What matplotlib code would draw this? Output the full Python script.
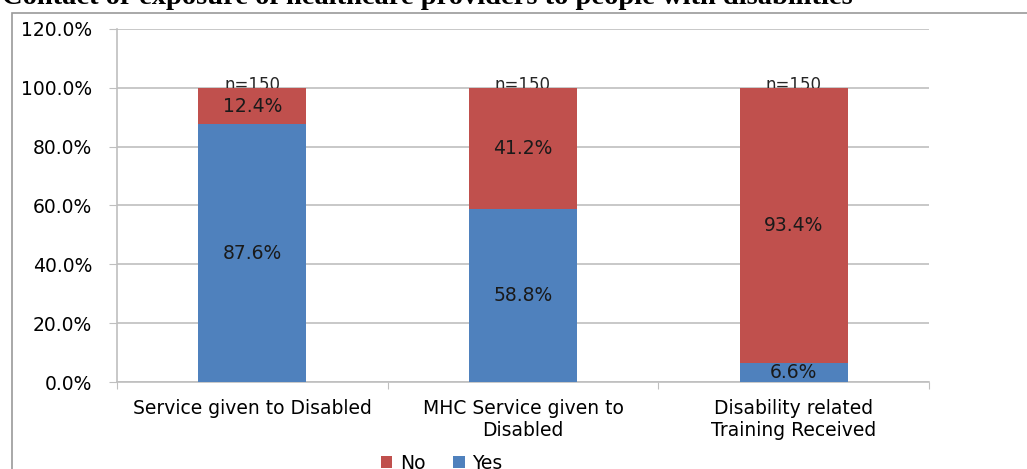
import numpy as np
import matplotlib.pyplot as plt
from matplotlib.patches import Rectangle

plt.rcParams["font.family"] = ["DejaVu Sans"]

# data
categories = ["Service given to Disabled", "MHC Service given to\nDisabled",
              "Disability related\nTraining Received"]
yes_pct = [87.6, 58.8, 6.6]
no_pct = [12.4, 41.2, 93.4]
n_labels = ["n=150", "n=150", "n=150"]
yticks = [0, 20, 40, 60, 80, 100, 120]

red = "#C0504D"
blue = "#4F81BD"
grid_col = "#BFBFBF"

fig = plt.figure(figsize=(10.27, 4.69), dpi=100)
ax = fig.add_axes([0.1139, 0.1855, 0.7907, 0.7527])

x = np.arange(len(categories)) + 0.5
ax.bar(x, yes_pct, width=0.4, color=blue, label="Yes", zorder=3)
ax.bar(x, no_pct, width=0.4, bottom=yes_pct, color=red, label="No", zorder=3)

# value labels
for xi, y, nv in zip(x, yes_pct, no_pct):
    ax.text(xi, y / 2, f"{y}%", ha="center", va="center", fontsize=13.5,
            color="#1a1a1a", zorder=4)
    ax.text(xi, y + nv / 2, f"{nv}%", ha="center", va="center", fontsize=13.5,
            color="#1a1a1a", zorder=4)
for xi, t in zip(x, n_labels):
    ax.text(xi, 100.8, t, ha="center", va="center", fontsize=12,
            color="#262626", zorder=2)

ax.set_xlim(0, 3)
ax.set_ylim(0, 120)
ax.set_yticks(yticks)
ax.set_yticklabels([f"{v:.1f}%" for v in yticks], fontsize=13.5)
ax.yaxis.grid(True, color=grid_col, linewidth=1.2, zorder=0)
ax.set_axisbelow(True)

# category ticks at boundaries, labels in the middle
ax.set_xticks([0, 1, 2, 3])
ax.set_xticklabels([])
ax.set_xticks(x, minor=True)
ax.set_xticklabels(categories, minor=True, fontsize=13.5, linespacing=1.2)
ax.tick_params(axis="x", which="minor", length=0, pad=12)
ax.tick_params(axis="x", which="major", length=5, color=grid_col)
ax.tick_params(axis="y", length=6, color=grid_col, pad=12)

for s in ["top", "right"]:
    ax.spines[s].set_visible(False)
for s in ["left", "bottom"]:
    ax.spines[s].set_color(grid_col)
    ax.spines[s].set_linewidth(1.2)

# legend below, No first
h, l = ax.get_legend_handles_labels()
ax.legend([h[1], h[0]], [l[1], l[0]], loc="upper center",
          bbox_to_anchor=(0.40, -0.155), ncol=2, frameon=False, fontsize=13.5,
          handlelength=0.6, handleheight=0.6, handletextpad=0.4,
          columnspacing=1.5)

# outer chart frame
fig.patches.append(Rectangle((12 / 1027, -0.1), 1.2, 1 - 13 / 469 + 0.1,
                             transform=fig.transFigure, fill=False,
                             edgecolor="#9a9a9a", linewidth=1.2))

# cropped title at the very top
fig.text(2 / 1027, 1 - 4 / 469,
         "Contact or exposure of healthcare providers to people with disabilities",
         ha="left", va="baseline", fontsize=20.5, fontweight="bold",
         family="Liberation Serif")

fig.savefig("out.png", dpi=100)
